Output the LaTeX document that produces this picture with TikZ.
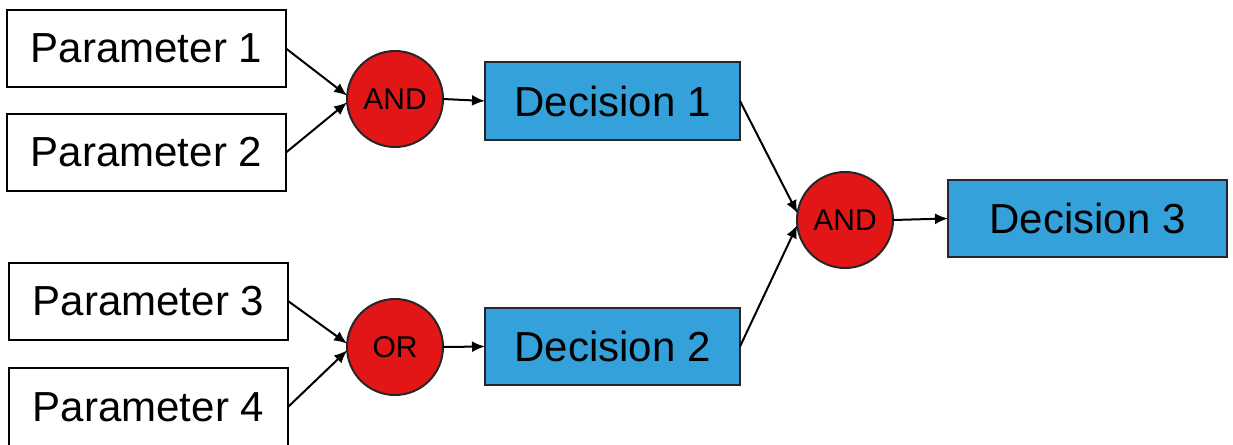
\documentclass[tikz,border=0pt]{standalone}
\usepackage{fontspec}
\setmainfont{Liberation Sans}
\usetikzlibrary{arrows.meta}
\definecolor{decblue}{RGB}{52,161,218}
\definecolor{gatered}{RGB}{226,22,22}
\tikzset{
  parbox/.style={draw=black, line width=2pt, fill=white, minimum width=279pt, minimum height=77pt, inner sep=0pt, outer sep=0pt, font=\fontsize{42}{50}\selectfont},
  decbox/.style={draw=black!85, line width=2pt, fill=decblue, minimum height=77pt, inner sep=0pt, outer sep=0pt, font=\fontsize{42}{50}\selectfont},
  gate/.style={circle, draw=black!85, line width=2pt, fill=gatered, minimum size=96pt, inner sep=0pt, outer sep=0pt, font=\fontsize{30}{36}\selectfont},
  link/.style={line width=2pt, -{Latex[length=13pt,width=11pt]}}
}
\begin{document}
\begin{tikzpicture}[x=1pt,y=-1pt]
\useasboundingbox (0,0) rectangle (1233,444);
\clip (0,0) rectangle (1233,444);
\node[parbox] (p1) at (146.5,48.5) {Parameter 1};
\node[parbox] (p2) at (146.5,152.5) {Parameter 2};
\node[parbox] (p3) at (148.5,301) {Parameter 3};
\node[parbox, minimum height=78pt] (p4) at (148.5,407) {Parameter 4};
\node[gate] (and1) at (395,99) {AND};
\node[gate] (or1) at (395,347) {OR};
\node[decbox, minimum width=255pt] (d1) at (612.5,101) {Decision 1};
\node[decbox, minimum width=255pt] (d2) at (612.5,346.5) {Decision 2};
\node[gate] (and2) at (845,220) {AND};
\node[decbox, minimum width=279pt] (d3) at (1087.5,218.5) {Decision 3};
\draw[link] (p1.east) -- (and1.176);
\draw[link] (p2.east) -- (and1.184);
\draw[link] (p3.east) -- (or1.176);
\draw[link] (p4.east) -- (or1.184);
\draw[link] (and1.east) -- (d1.west);
\draw[link] (or1.east) -- (d2.west);
\draw[link] (d1.east) -- (and2.172);
\draw[link] (d2.east) -- (and2.186);
\draw[link] (and2.east) -- (d3.west);
\end{tikzpicture}
\end{document}
